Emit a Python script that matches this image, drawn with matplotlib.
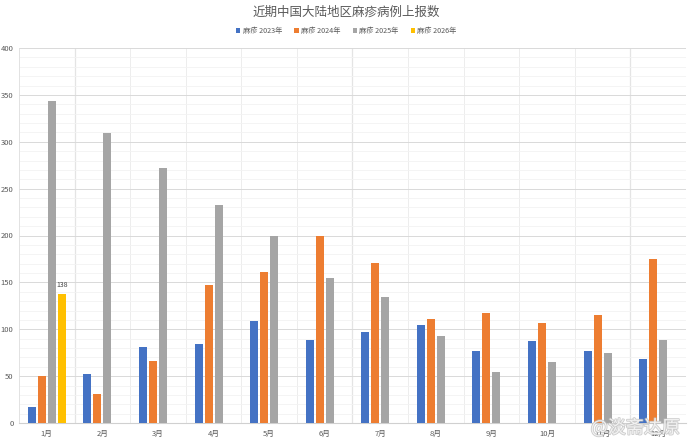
import numpy as np
import matplotlib
matplotlib.use("Agg")
import matplotlib.pyplot as plt
import matplotlib.patheffects as pe
from matplotlib.ticker import MultipleLocator

plt.rcParams['font.family'] = ['Noto Sans CJK SC', 'DejaVu Sans']

months = ['1月', '2月', '3月', '4月', '5月', '6月', '7月', '8月', '9月', '10月', '11月', '12月']
y2023 = [17, 52, 81, 84, 109, 89, 97, 105, 77, 87, 77, 68]
y2024 = [50, 31, 66, 147, 161, 200, 171, 111, 117, 107, 115, 175]
y2025 = [343, 309, 272, 233, 199, 155, 134, 93, 54, 65, 75, 89]
y2026 = [138]
series_names = ['麻疹 2023年', '麻疹 2024年', '麻疹 2025年', '麻疹 2026年']
colors = ['#4472C4', '#ED7D31', '#A5A5A5', '#FFC000']

fig = plt.figure(figsize=(6.9, 4.43), dpi=100)
ax = fig.add_axes([19/690, 1-423/443, 667/690, 375/443])

x = np.arange(1, len(months) + 1)
step = 0.18
w = 0.145
all_series = [y2023, y2024, y2025, y2026]
for i, (vals, c, name) in enumerate(zip(all_series, colors, series_names)):
    xs = x[:len(vals)] + (i - 1.5) * step
    ax.bar(xs, vals, width=w, color=c, label=name, zorder=3)

# data label on the 2026 bar
ax.text(1 + 1.5 * step, y2026[0] + 5, str(y2026[0]), ha='center', va='bottom',
        fontsize=5, color='#404040')

ax.set_xlim(0.5, 12.5)
ax.set_ylim(0, 400)
ax.yaxis.set_major_locator(MultipleLocator(50))
ax.yaxis.set_minor_locator(MultipleLocator(10))
ax.set_xticks(x)
ax.set_xticklabels(months)
ax.set_xticks(np.arange(0.5, 12.6, 0.5), minor=True)

ax.grid(which='major', axis='y', color='#d9d9d9', lw=0.7, zorder=0)
ax.grid(which='minor', axis='y', color='#f2f2f2', lw=0.6, zorder=0)
ax.grid(which='minor', axis='x', color='#eaeaea', lw=0.6, zorder=0)
for xv in [1.5, 6.5, 11.5]:
    ax.axvline(xv, color='#c8c8c8', lw=0.8, zorder=1)

ax.tick_params(which='both', length=0)
ax.tick_params(axis='x', labelsize=5.5, labelcolor='#595959', pad=5)
ax.tick_params(axis='y', labelsize=5.5, labelcolor='#595959', pad=4)
for lab in ax.get_yticklabels():
    lab.set_horizontalalignment('right')
for s in ['top', 'right']:
    ax.spines[s].set_visible(False)
ax.spines['left'].set_color('#e0e0e0')
ax.spines['bottom'].set_color('#d0d0d0')
ax.spines['left'].set_linewidth(0.6)
ax.spines['bottom'].set_linewidth(0.8)

fig.text(0.502, 1 - 12/443, '近期中国大陆地区麻疹病例上报数', ha='center', va='center',
         fontsize=9, color='#595959')
fig.legend(loc='center', bbox_to_anchor=(0.502, 1 - 31/443), ncol=4, frameon=False,
           fontsize=5.2, handlelength=0.6, handleheight=0.6, handletextpad=0.3,
           columnspacing=1.7, labelcolor='#595959')

fig.text(0.985, 1 - 428/443, '@淡斋达原', ha='right', va='center', fontsize=13,
         color='#ffffff', alpha=0.75, zorder=10,
         path_effects=[pe.withStroke(linewidth=1.2, foreground='#bbbbbb')])

fig.savefig('out.png', dpi=100)
